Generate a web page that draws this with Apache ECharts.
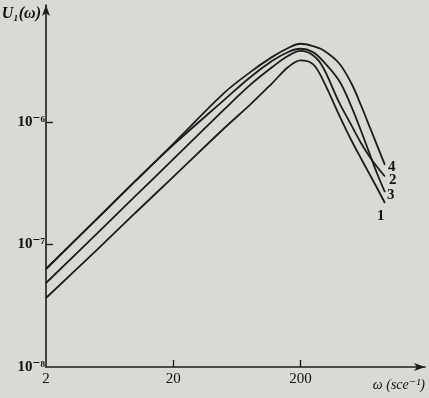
<!DOCTYPE html>
<html>
<head>
<meta charset="utf-8">
<script src="https://cdn.jsdelivr.net/npm/echarts@6/dist/echarts.min.js"></script>
<style>
  html, body { margin: 0; padding: 0; background: #d9d9d5; }
  #chart { width: 429px; height: 398px; }
</style>
</head>
<body>
<div id="chart"></div>
<script>
// 频率 ω (sce^-1)
const omega = [2, 5, 10, 20, 50, 80, 120, 160, 200, 250, 300, 400, 500, 600, 700, 800, 920];

// U1(ω) 各曲线数值
const u1 = [3.66e-8, 9.0e-8, 1.80e-7, 3.57e-7, 8.85e-7, 1.38e-6, 2.08e-6, 2.81e-6, 3.18e-6, 2.97e-6, 2.20e-6, 1.15e-6, 7.13e-7, 4.99e-7, 3.72e-7, 2.88e-7, 2.18e-7];
const u2 = [4.85e-8, 1.22e-7, 2.47e-7, 4.97e-7, 1.26e-6, 2.00e-6, 2.81e-6, 3.47e-6, 3.80e-6, 3.50e-6, 2.80e-6, 1.46e-6, 9.46e-7, 6.67e-7, 5.18e-7, 4.29e-7, 3.59e-7];
const u3 = [6.31e-8, 1.61e-7, 3.27e-7, 6.50e-7, 1.51e-6, 2.31e-6, 3.16e-6, 3.73e-6, 3.96e-6, 3.72e-6, 3.15e-6, 2.19e-6, 1.35e-6, 8.36e-7, 5.45e-7, 3.78e-7, 2.68e-7];
const u4 = [6.31e-8, 1.61e-7, 3.27e-7, 6.64e-7, 1.72e-6, 2.54e-6, 3.40e-6, 4.02e-6, 4.35e-6, 4.17e-6, 3.87e-6, 3.03e-6, 2.08e-6, 1.35e-6, 9.06e-7, 6.41e-7, 4.46e-7];

// 刻度
const xTicks = [2, 20, 200];
const yTicks = [1e-8, 1e-7, 1e-6];

const SERIF = "'Liberation Serif', 'DejaVu Serif', serif";
const SUP = { '-': '⁻', '0': '⁰', '1': '¹', '2': '²', '3': '³', '4': '⁴', '5': '⁵', '6': '⁶', '7': '⁷', '8': '⁸', '9': '⁹' };

// 双对数坐标：数据取 log10 后放在数值轴上
function toPoints(us) {
  return omega.map((w, i) => [Math.log10(w), Math.log10(us[i])]);
}

function makeSeries(name, us, offset) {
  return {
    name: name,
    type: 'line',
    data: toPoints(us),
    smooth: 0.35,
    showSymbol: false,
    lineStyle: { color: '#1c1c1c', width: 1.8 },
    endLabel: {
      show: true,
      formatter: name,
      distance: 0,
      offset: offset,
      color: '#111',
      fontFamily: SERIF,
      fontWeight: 'bold',
      fontSize: 15
    }
  };
}

const chart = echarts.init(document.getElementById('chart'));

const option = {
  backgroundColor: '#d9d9d5',
  animation: false,
  grid: { left: 46, right: 4, top: 5, bottom: 31, outerBoundsMode: 'none' },
  xAxis: {
    type: 'value',
    min: Math.log10(2),
    max: Math.log10(1900),
    name: 'ω (sce⁻¹)',
    nameLocation: 'end',
    nameGap: 0,
    nameTextStyle: {
      align: 'right', verticalAlign: 'top', padding: [11, 0, 0, 0],
      fontFamily: SERIF, fontStyle: 'italic', fontSize: 14, color: '#111'
    },
    splitLine: { show: false },
    axisLine: { lineStyle: { color: '#1c1c1c', width: 1.6 }, symbol: ['none', 'arrow'], symbolSize: [6, 11] },
    axisTick: { inside: true, length: 7, customValues: xTicks.slice(1).map(Math.log10), lineStyle: { color: '#1c1c1c', width: 1.4 } },
    axisLabel: {
      customValues: xTicks.map(Math.log10),
      formatter: v => String(Math.round(Math.pow(10, v))),
      margin: 5,
      fontFamily: SERIF, fontSize: 15, color: '#111'
    }
  },
  yAxis: {
    type: 'value',
    min: -8,
    max: -5.045,
    name: 'U₁(ω)',
    nameLocation: 'end',
    nameGap: -1,
    nameTextStyle: {
      align: 'right', verticalAlign: 'top', padding: [0, 5, 0, 0],
      fontFamily: SERIF, fontWeight: 'bold', fontStyle: 'italic', fontSize: 16, color: '#111'
    },
    splitLine: { show: false },
    axisLine: { lineStyle: { color: '#1c1c1c', width: 1.6 }, symbol: ['none', 'arrow'], symbolSize: [6, 11] },
    axisTick: { inside: true, length: 7, customValues: yTicks.slice(1).map(Math.log10), lineStyle: { color: '#1c1c1c', width: 1.4 } },
    axisLabel: {
      customValues: yTicks.map(Math.log10),
      formatter: v => '10' + String(Math.round(v)).split('').map(c => SUP[c]).join(''),
      margin: 1,
      fontFamily: SERIF, fontWeight: 'bold', fontSize: 15, color: '#111'
    }
  },
  series: [
    makeSeries('1', u1, [-8, 13]),
    makeSeries('2', u2, [4, 4]),
    makeSeries('3', u3, [2, 3]),
    makeSeries('4', u4, [3, 2])
  ]
};

chart.setOption(option);

window.addEventListener('resize', function() {
  chart.resize();
});
</script>
</body>
</html>
